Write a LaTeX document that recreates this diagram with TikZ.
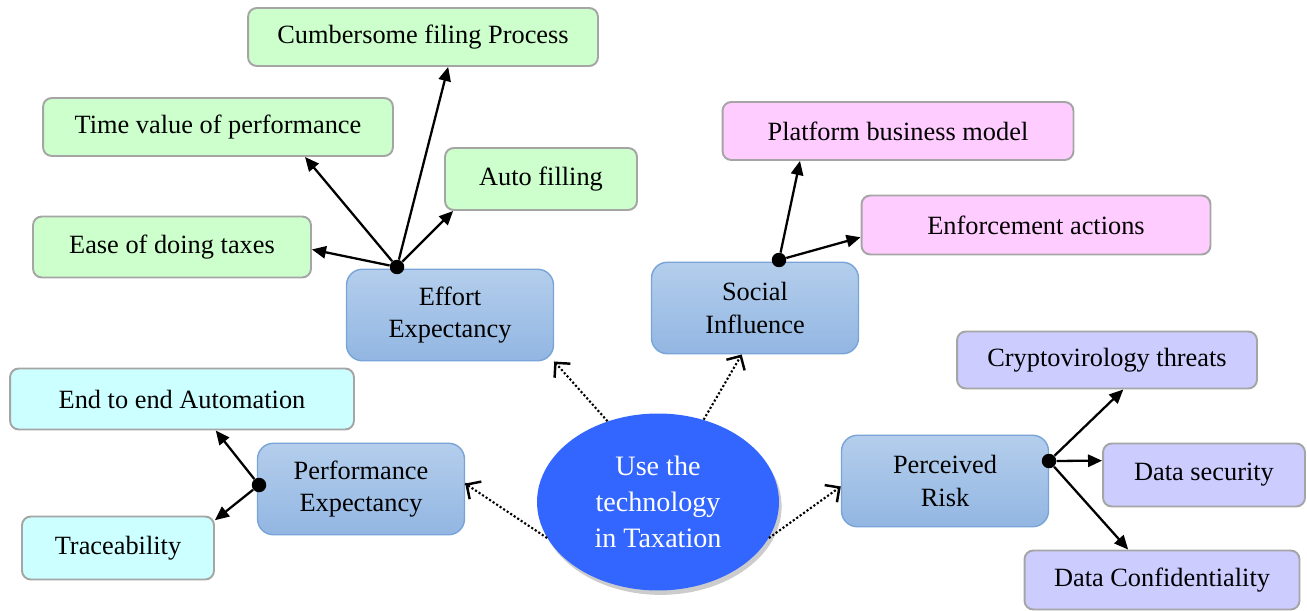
\documentclass[tikz,border=0pt]{standalone}
\usepackage{fontspec}
\setmainfont{Liberation Serif}
\usepackage{xcolor}
\definecolor{leafgreen}{RGB}{204,255,204}
\definecolor{leafcyan}{RGB}{204,255,255}
\definecolor{leafpink}{RGB}{255,204,255}
\definecolor{leaflilac}{RGB}{204,204,255}
\definecolor{leafedge}{RGB}{165,165,165}
\definecolor{hubtop}{RGB}{180,206,236}
\definecolor{hubbot}{RGB}{146,182,226}
\definecolor{hubedge}{RGB}{120,164,216}
\definecolor{coreblue}{RGB}{51,102,255}
\usetikzlibrary{arrows.meta, shapes.geometric, shadows, decorations.markings}

\begin{document}
\begin{tikzpicture}[x=0.02cm,y=-0.02cm,
          font=\fontsize{15}{18.5}\selectfont,
          leaf/.style={draw=leafedge,line width=1.1pt,rounded corners=5pt,
                       align=center,inner sep=2pt},
          hub/.style={draw=hubedge,line width=0.8pt,top color=hubtop,bottom color=hubbot,
                      rounded corners=9pt,minimum width=4.14cm,minimum height=1.83cm,align=center},
          core/.style={ellipse,fill=coreblue,text=white,inner sep=0pt,
                       minimum width=4.84cm,minimum height=3.54cm,align=center,
                       font=\fontsize{16}{20.5}\selectfont,
                       drop shadow={shadow xshift=1.5pt,shadow yshift=-2.5pt,opacity=0.4}},
          knot/.style={circle,fill=black,inner sep=0pt,minimum size=0.29cm},
          arr/.style={-{Triangle[length=8pt,width=7pt]},line width=1.3pt},
          % dotted shaft, solid barb on the end
          dotarr/.style={line width=1.2pt,dash pattern=on 1.2pt off 1.2pt,
                         decoration={markings,mark=at position 1 with
                           {\pgfsetdash{}{0pt}\arrow[line width=1.4pt]{Straight Barb[length=6pt,width=12pt]}}},
                         postaction=decorate}]
        \useasboundingbox (0,0) rectangle (1307,611);
        % centre and the four factors
        \node[core] (use) at (658,502) {Use the\\technology\\in Taxation};
        \node[hub] (effort) at (450,315) {Effort\\Expectancy};
        \node[hub] (social) at (755,308) {Social\\Influence};
        \node[hub] (perf) at (361,489) {Performance\\Expectancy};
        \node[hub] (risk) at (945,481) {Perceived\\Risk};
        % items under each factor
        \node[leaf,fill=leafgreen,minimum width=7cm,minimum height=1.16cm] (cumb) at (423,37) {Cumbersome filing Process};
        \node[leaf,fill=leafgreen,minimum width=7cm,minimum height=1.16cm] (time) at (218,127) {Time value of performance};
        \node[leaf,fill=leafgreen,minimum width=3.84cm,minimum height=1.24cm] (auto) at (541,179) {Auto filling};
        \node[leaf,fill=leafgreen,minimum width=5.56cm,minimum height=1.22cm] (ease) at (172,247) {Ease of doing taxes};
        \node[leaf,fill=leafpink,minimum width=7.02cm,minimum height=1.16cm] (plat) at (898,131) {Platform business model};
        \node[leaf,fill=leafpink,minimum width=6.98cm,minimum height=1.18cm] (enf) at (1036,225) {Enforcement actions};
        \node[leaf,fill=leafcyan,minimum width=6.88cm,minimum height=1.22cm] (e2e) at (182,399) {End to end Automation};
        \node[leaf,fill=leafcyan,minimum width=3.84cm,minimum height=1.26cm] (trace) at (118,548) {Traceability};
        \node[leaf,fill=leaflilac,minimum width=6cm,minimum height=1.14cm] (crypto) at (1107,360) {Cryptovirology threats};
        \node[leaf,fill=leaflilac,minimum width=4.04cm,minimum height=1.26cm] (dsec) at (1204,475) {Data security};
        \node[leaf,fill=leaflilac,minimum width=5.5cm,minimum height=1.18cm] (dconf) at (1162,580) {Data Confidentiality};
        % branching points
        \node[knot] (ek) at (397,267) {};
        \node[knot] (sk) at (779,260) {};
        \node[knot] (pk) at (259,485) {};
        \node[knot] (rk) at (1049,461) {};
        % links
        \draw[dotarr] (use.122) -- (effort.south east);
        \draw[dotarr] (use.61) -- (social.-106);
        \draw[dotarr] (use.198) -- (perf.3);
        \draw[dotarr] (use.-18) -- (risk.183);
        \draw[arr] (ek) -- (ease.-1);
        \draw[arr] (ek) -- (time.-19);
        \draw[arr] (ek) -- (cumb.-50);
        \draw[arr] (ek) -- (auto.200);
        \draw[arr] (sk) -- (plat.197);
        \draw[arr] (sk) -- (enf.184);
        \draw[arr] (pk) -- (e2e.-43);
        \draw[arr] (pk) -- (trace.16);
        \draw[arr] (rk) -- (crypto.-61);
        \draw[arr] (rk) -- (dsec.172);
        \draw[arr] (rk) -- (dconf.138);
      \end{tikzpicture}
\end{document}
